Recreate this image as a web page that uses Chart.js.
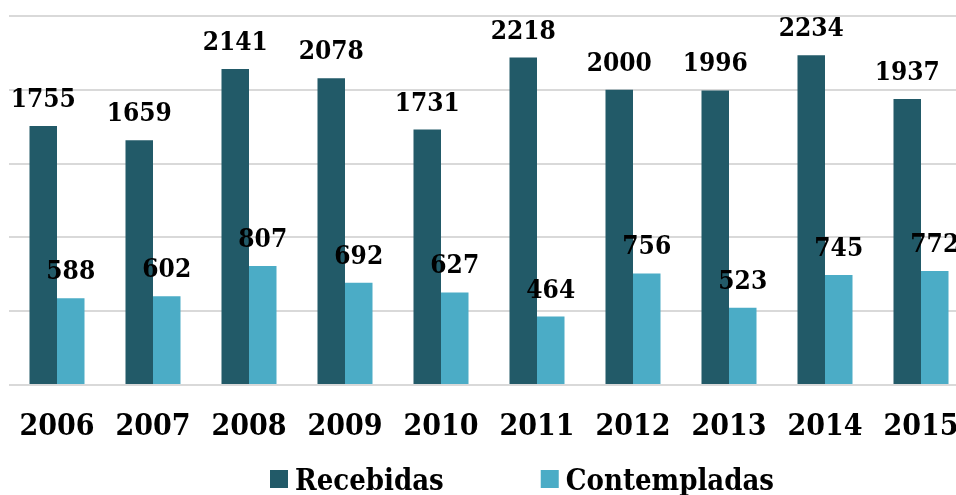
<!DOCTYPE html>
<html><head><meta charset="utf-8">
<script src="https://cdn.jsdelivr.net/npm/chart.js@4/dist/chart.umd.min.js"></script>
<style>
html,body{margin:0;padding:0;overflow:hidden;background:#fff;width:956px;height:495px}
#wrap{position:relative;width:980px;height:495px}
</style></head>
<body><div id="wrap"><canvas id="c" width="980" height="495"></canvas></div>
<script>
const years = ['2006','2007','2008','2009','2010','2011','2012','2013','2014','2015'];
const recebidas = [1755,1659,2141,2078,1731,2218,2000,1996,2234,1937];
const contempladas = [588,602,807,692,627,464,756,523,745,772];
const seriesNames = ['Recebidas','Contempladas'];
const seriesColors = ['#225a68','#4bacc6'];
const yMin = 0, yMax = 2500, yStep = 500;

const FONT = '"DejaVu Serif Condensed", "Liberation Serif", serif';

const valueLabels = {
  id: 'valueLabels',
  afterDatasetsDraw(chart) {
    const ctx = chart.ctx;
    ctx.save();
    ctx.font = 'bold 26px ' + FONT;
    ctx.fillStyle = '#000';
    ctx.textAlign = 'center';
    ctx.textBaseline = 'alphabetic';
    chart.data.datasets.forEach((ds, i) => {
      chart.getDatasetMeta(i).data.forEach((bar, j) => {
        ctx.fillText(String(ds.data[j]), bar.x, bar.y - 19);
      });
    });
    ctx.restore();
  }
};

const customLegend = {
  id: 'customLegend',
  afterDraw(chart, args, opts) {
    const ctx = chart.ctx;
    ctx.save();
    ctx.font = 'bold 29px ' + FONT;
    ctx.textBaseline = 'alphabetic';
    ctx.textAlign = 'left';
    let x = opts.startX;
    const y = opts.centerY;
    const box = opts.boxSize;
    chart.data.datasets.forEach((ds, i) => {
      ctx.fillStyle = ds.backgroundColor;
      ctx.fillRect(x, y - box / 2, box, box);
      x += box + opts.textGap;
      ctx.fillStyle = '#000';
      ctx.fillText(ds.label, x, opts.baseline);
      x += ctx.measureText(ds.label).width + opts.itemGap;
    });
    ctx.restore();
  }
};

new Chart(document.getElementById('c'), {
  type: 'bar',
  data: {
    labels: years,
    datasets: [
      { label: seriesNames[0], data: recebidas, backgroundColor: seriesColors[0], borderWidth: 0 },
      { label: seriesNames[1], data: contempladas, backgroundColor: seriesColors[1], borderWidth: 0 }
    ]
  },
  options: {
    responsive: false,
    animation: false,
    devicePixelRatio: 1,
    categoryPercentage: 0.573,
    barPercentage: 1,
    layout: { padding: { left: 9, right: 11, top: 16, bottom: 50 } },
    plugins: {
      legend: { display: false },
      tooltip: { enabled: false },
      customLegend: { startX: 270, centerY: 479, baseline: 490, boxSize: 18, textGap: 7, itemGap: 97 }
    },
    scales: {
      x: {
        afterFit(s) { s.height = 60; },
        grid: { display: false, drawTicks: false },
        border: { display: false },
        ticks: { color: '#000', font: { family: FONT, weight: 'bold', size: 30, lineHeight: '84px' }, padding: 0, maxRotation: 0 }
      },
      y: {
        afterFit(s) { s.width = 0; },
        min: yMin, max: yMax,
        grid: { color: '#d9d9d9', lineWidth: 2, drawTicks: false },
        border: { display: false },
        ticks: { display: false, stepSize: yStep }
      }
    }
  },
  plugins: [valueLabels, customLegend]
});
</script>
</body></html>
